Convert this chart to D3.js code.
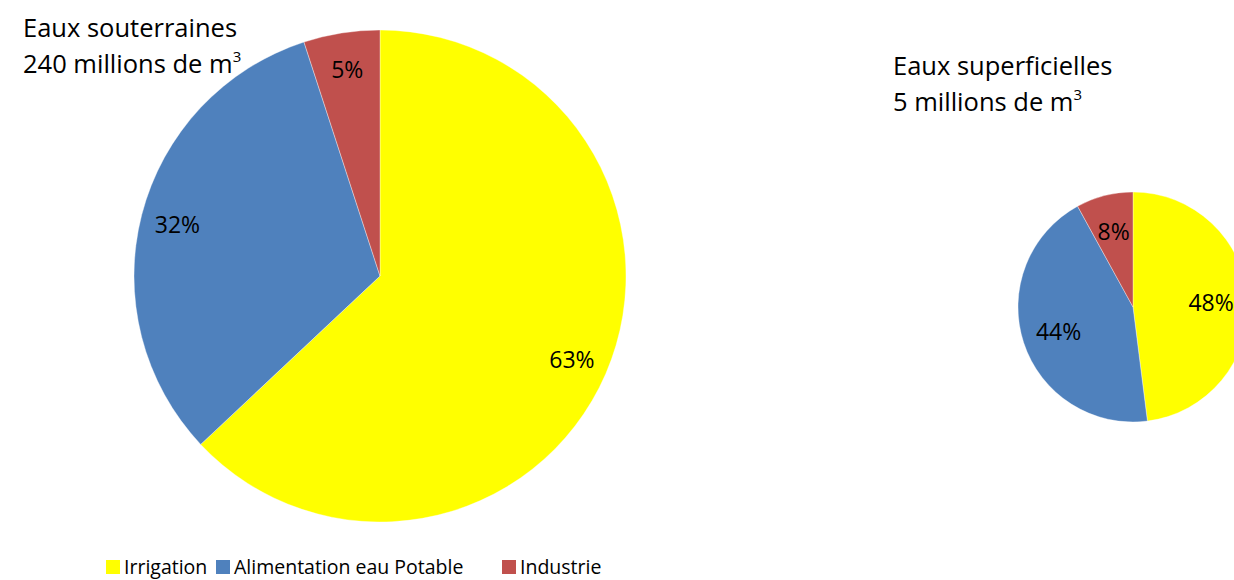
<!DOCTYPE html>
<html>
<head>
<meta charset="utf-8">
<script src="https://cdn.jsdelivr.net/npm/d3@7"></script>
<style>
  html, body { margin: 0; padding: 0; background: #fff; }
  svg { display: block; font-family: "Open Sans", "Noto Sans", sans-serif; font-variant-ligatures: none; }
</style>
</head>
<body>
<svg id="chart" width="1234" height="580"></svg>
<script>
// Usage categories (legend order = slice order, clockwise from 12 o'clock)
const categories = ["Irrigation", "Alimentation eau Potable", "Industrie"];
const colors = ["#ffff00", "#4f81bd", "#c0504d"];

// Share of each usage, in percent
const groundwaterValues = [63, 32, 5];
const surfaceValues = [48, 44, 8];

// Pie titles (two lines each, the second ends with "m³")
const groundwaterTitle = ["Eaux souterraines", "240 millions de m"];
const surfaceTitle = ["Eaux superficielles", "5 millions de m"];

const svg = d3.select("#chart");

const pie = d3.pie().sort(null).value(d => d);

function drawPie(values, cx, cy, r, labelFrac) {
  const g = svg.append("g").attr("transform", `translate(${cx},${cy})`);
  const arc = d3.arc().innerRadius(0).outerRadius(r);
  const labelArc = d3.arc().innerRadius(r * labelFrac).outerRadius(r * labelFrac);
  const arcs = pie(values);
  g.selectAll("path")
    .data(arcs)
    .join("path")
    .attr("d", arc)
    .attr("fill", (d, i) => colors[i])
    .attr("stroke", "#ffffff")
    .attr("stroke-width", 0.6)
    .attr("stroke-opacity", 0.6);
  g.selectAll("text")
    .data(arcs)
    .join("text")
    .attr("transform", d => `translate(${labelArc.centroid(d)})`)
    .attr("text-anchor", "middle")
    .attr("dominant-baseline", "central")
    .attr("font-size", 23)
    .attr("fill", "#000")
    .text(d => d.data + "%");
}

function drawTitle(lines, x, y, lineGap) {
  const t = svg.append("text")
    .attr("x", x).attr("y", y)
    .attr("font-size", 25.5)
    .attr("fill", "#000");
  t.append("tspan").attr("x", x).attr("y", y).text(lines[0]);
  t.append("tspan").attr("x", x).attr("y", y + lineGap).text(lines[1]);
  t.append("tspan")
    .attr("dy", -11)
    .attr("font-size", 15)
    .text("3");
}

drawPie(groundwaterValues, 380, 276, 246, 0.85);
drawPie(surfaceValues, 1133, 307, 115, 0.68);

drawTitle(groundwaterTitle, 23, 37, 36);
drawTitle(surfaceTitle, 893, 75, 36);

// Legend
const legendX = d3.scaleOrdinal().domain(categories).range([106, 216, 502]);
const legend = svg.append("g").attr("class", "legend");
const items = legend.selectAll("g")
  .data(categories)
  .join("g")
  .attr("transform", d => `translate(${legendX(d)},560)`);
items.append("rect")
  .attr("width", 14).attr("height", 14)
  .attr("fill", (d, i) => colors[i]);
items.append("text")
  .attr("x", 18).attr("y", 14)
  .attr("font-size", 19.5)
  .attr("fill", "#000")
  .text(d => d);
</script>
</body>
</html>
